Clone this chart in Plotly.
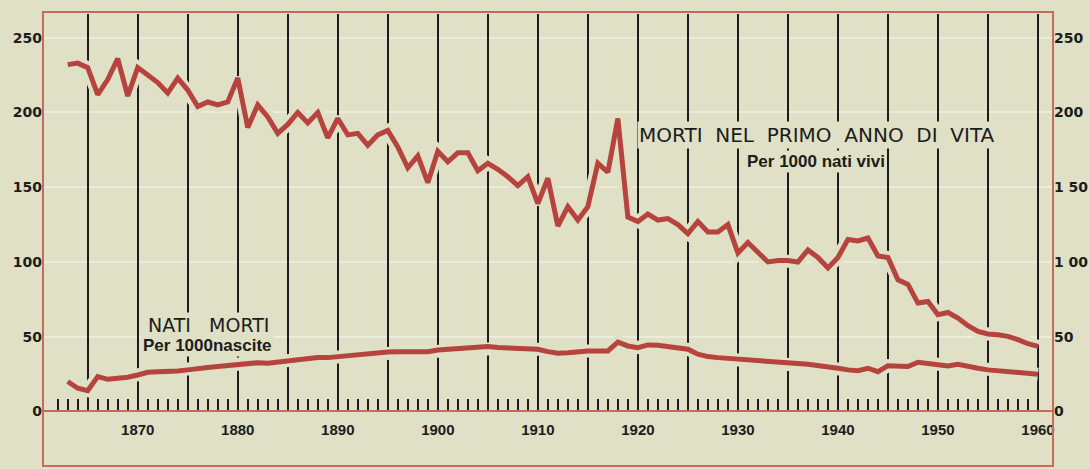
import plotly.graph_objects as go

years = list(range(1863, 1961))

infant_mortality = [
    232, 233, 230, 212, 222, 236, 211, 230, 225, 220,
    213, 223, 215, 204, 207, 205, 207, 223, 190, 205,
    197, 186, 192, 200, 193, 200, 183, 196, 185, 186,
    178, 185, 188, 177, 163, 171, 153, 174, 167, 173,
    173, 161, 166, 162, 157, 151, 157, 139, 156, 124,
    137, 128, 137, 166, 160, 196, 130, 127, 132, 128,
    129, 125, 119, 127, 120, 120, 125, 106, 113, 106,
    100, 101, 101, 100, 108, 103, 96, 103, 115, 114,
    116, 104, 103, 88, 85, 72.5, 73.6, 64.7, 66.2, 62.5,
    57.3, 53.5, 51.8, 51.3, 50.2, 48, 45.3, 43.5,
]

stillbirths = [
    20, 15.5, 13.9, 23.3, 21.5, 21.8, 22.9, 24.4, 26.2, 26.6,
    26.6, 27, 27.8, 28.9, 29.4, 30, 30.6, 31.6, 32.2, 32.6,
    32.2, 32.9, 34.4, 35.1, 35.5, 36, 36, 36.7, 37.6, 38.2,
    38.9, 39.3, 39.8, 40, 39.8, 39.6, 40, 41.1, 41.6, 42.3,
    42.3, 42.9, 43.4, 42.8, 42.5, 42.5, 42, 41.6, 40, 38.9,
    39.3, 40, 40.5, 40.5, 40.5, 46.3, 43.8, 42.7, 44.5, 44.3,
    43.4, 42, 41.6, 38.3, 36.7, 36, 35.5, 34.4, 33.8, 33.8,
    33.1, 32.2, 32, 32, 31.6, 30.9, 30, 28.9, 27.8, 27.3,
    28.9, 26.6, 30.6, 30, 30, 32.9, 32.2, 31.8, 30.4, 31.6,
    30, 28.9, 27.8, 27.1, 26.2, 25.5, 24.9, 24.9,
]

x_tick_vals = list(range(1865, 1961, 5))
x_tick_text = [str(v) if v % 10 == 0 else " " for v in x_tick_vals]
x_minor_vals = [v for v in range(1862, 1961) if v % 5 != 0]
y_tick_vals = [0, 50, 100, 150, 200, 250]
y_tick_text_left = ["0", "50", "100", "150", "200", "250"]
y_tick_text_right = ["0", "50", "1 00", "1 50", "200", "250"]

PAPER = "#dfe0c5"
RED = "#b6433d"
FRAME = "#c9695c"
INK = "#1c1c1c"

x_range = [1860.53, 1961.5]
y_range = [-36.5, 267.2]
axis_pos = (0 - y_range[0]) / (y_range[1] - y_range[0])

fig = go.Figure()

# paper-coloured halo under the curves (breaks the vertical rules)
for series in (infant_mortality, stillbirths):
    fig.add_trace(go.Scatter(x=years, y=series, mode="lines", yaxis="y",
                             line=dict(color=PAPER, width=13),
                             hoverinfo="skip", showlegend=False))
for series in (infant_mortality, stillbirths):
    fig.add_trace(go.Scatter(x=years, y=series, mode="lines", yaxis="y2",
                             line=dict(color=RED, width=5),
                             showlegend=False))

tick_font = dict(family="Liberation Sans", size=15, color=INK, weight="bold")
ylab_font = dict(family="DejaVu Sans", size=14, color=INK, weight="bold")

fig.update_layout(
    width=1090, height=469,
    margin=dict(l=43, r=37, t=12, b=3, autoexpand=False),
    paper_bgcolor=PAPER, plot_bgcolor=PAPER,
    xaxis=dict(
        range=x_range, anchor="free", position=axis_pos, automargin=False,
        tickmode="array", tickvals=x_tick_vals, ticktext=x_tick_text,
        ticks="inside", ticklen=396, tickwidth=2, tickcolor=INK,
        minor=dict(tickmode="array", tickvals=x_minor_vals, ticks="inside",
                   ticklen=11, tickwidth=1.5, tickcolor=INK, showgrid=False),
        showgrid=False, zeroline=False,
        showline=True, linecolor=FRAME, linewidth=2,
        tickfont=tick_font, layer="below traces", ticklabelstandoff=5,
    ),
    yaxis=dict(
        range=y_range, tickmode="array", tickvals=y_tick_vals, ticktext=y_tick_text_left,
        showgrid=True, gridcolor="#ebecd9", gridwidth=2, zeroline=False, automargin=False,
        showline=False, ticks="", tickfont=ylab_font, layer="below traces",
    ),
    yaxis2=dict(
        range=y_range, overlaying="y", side="right", automargin=False,
        tickmode="array", tickvals=y_tick_vals, ticktext=y_tick_text_right,
        showgrid=False, zeroline=False, showline=False, ticks="",
        tickfont=ylab_font, layer="below traces",
    ),
    shapes=[dict(type="rect", xref="paper", yref="paper", x0=0, x1=1, y0=0, y1=1,
                 line=dict(color=FRAME, width=2), layer="above")],
    annotations=[
        dict(x=1937.95, y=185, xref="x", yref="y", showarrow=False,
             text="MORTI  NEL  PRIMO  ANNO  DI  VITA", bgcolor=PAPER,
             font=dict(family="DejaVu Sans", size=20, color=INK)),
        dict(x=1937.8, y=167, xref="x", yref="y", showarrow=False,
             text="Per 1000 nati vivi", bgcolor=PAPER,
             font=dict(family="Liberation Sans", size=17, color=INK, weight="bold")),
        dict(x=1877.1, y=58, xref="x", yref="y", showarrow=False,
             text="NATI   MORTI", bgcolor=PAPER,
             font=dict(family="DejaVu Sans", size=19, color=INK)),
        dict(x=1877.0, y=43.8, xref="x", yref="y", showarrow=False,
             text="Per 1000nascite", bgcolor=PAPER,
             font=dict(family="Liberation Sans", size=17, color=INK, weight="bold")),
    ],
)

fig.write_html(
    "out.html",
    config={"displayModeBar": False},
    post_script="document.body.style.margin='0';document.body.style.background='#dfe0c5';",
)
